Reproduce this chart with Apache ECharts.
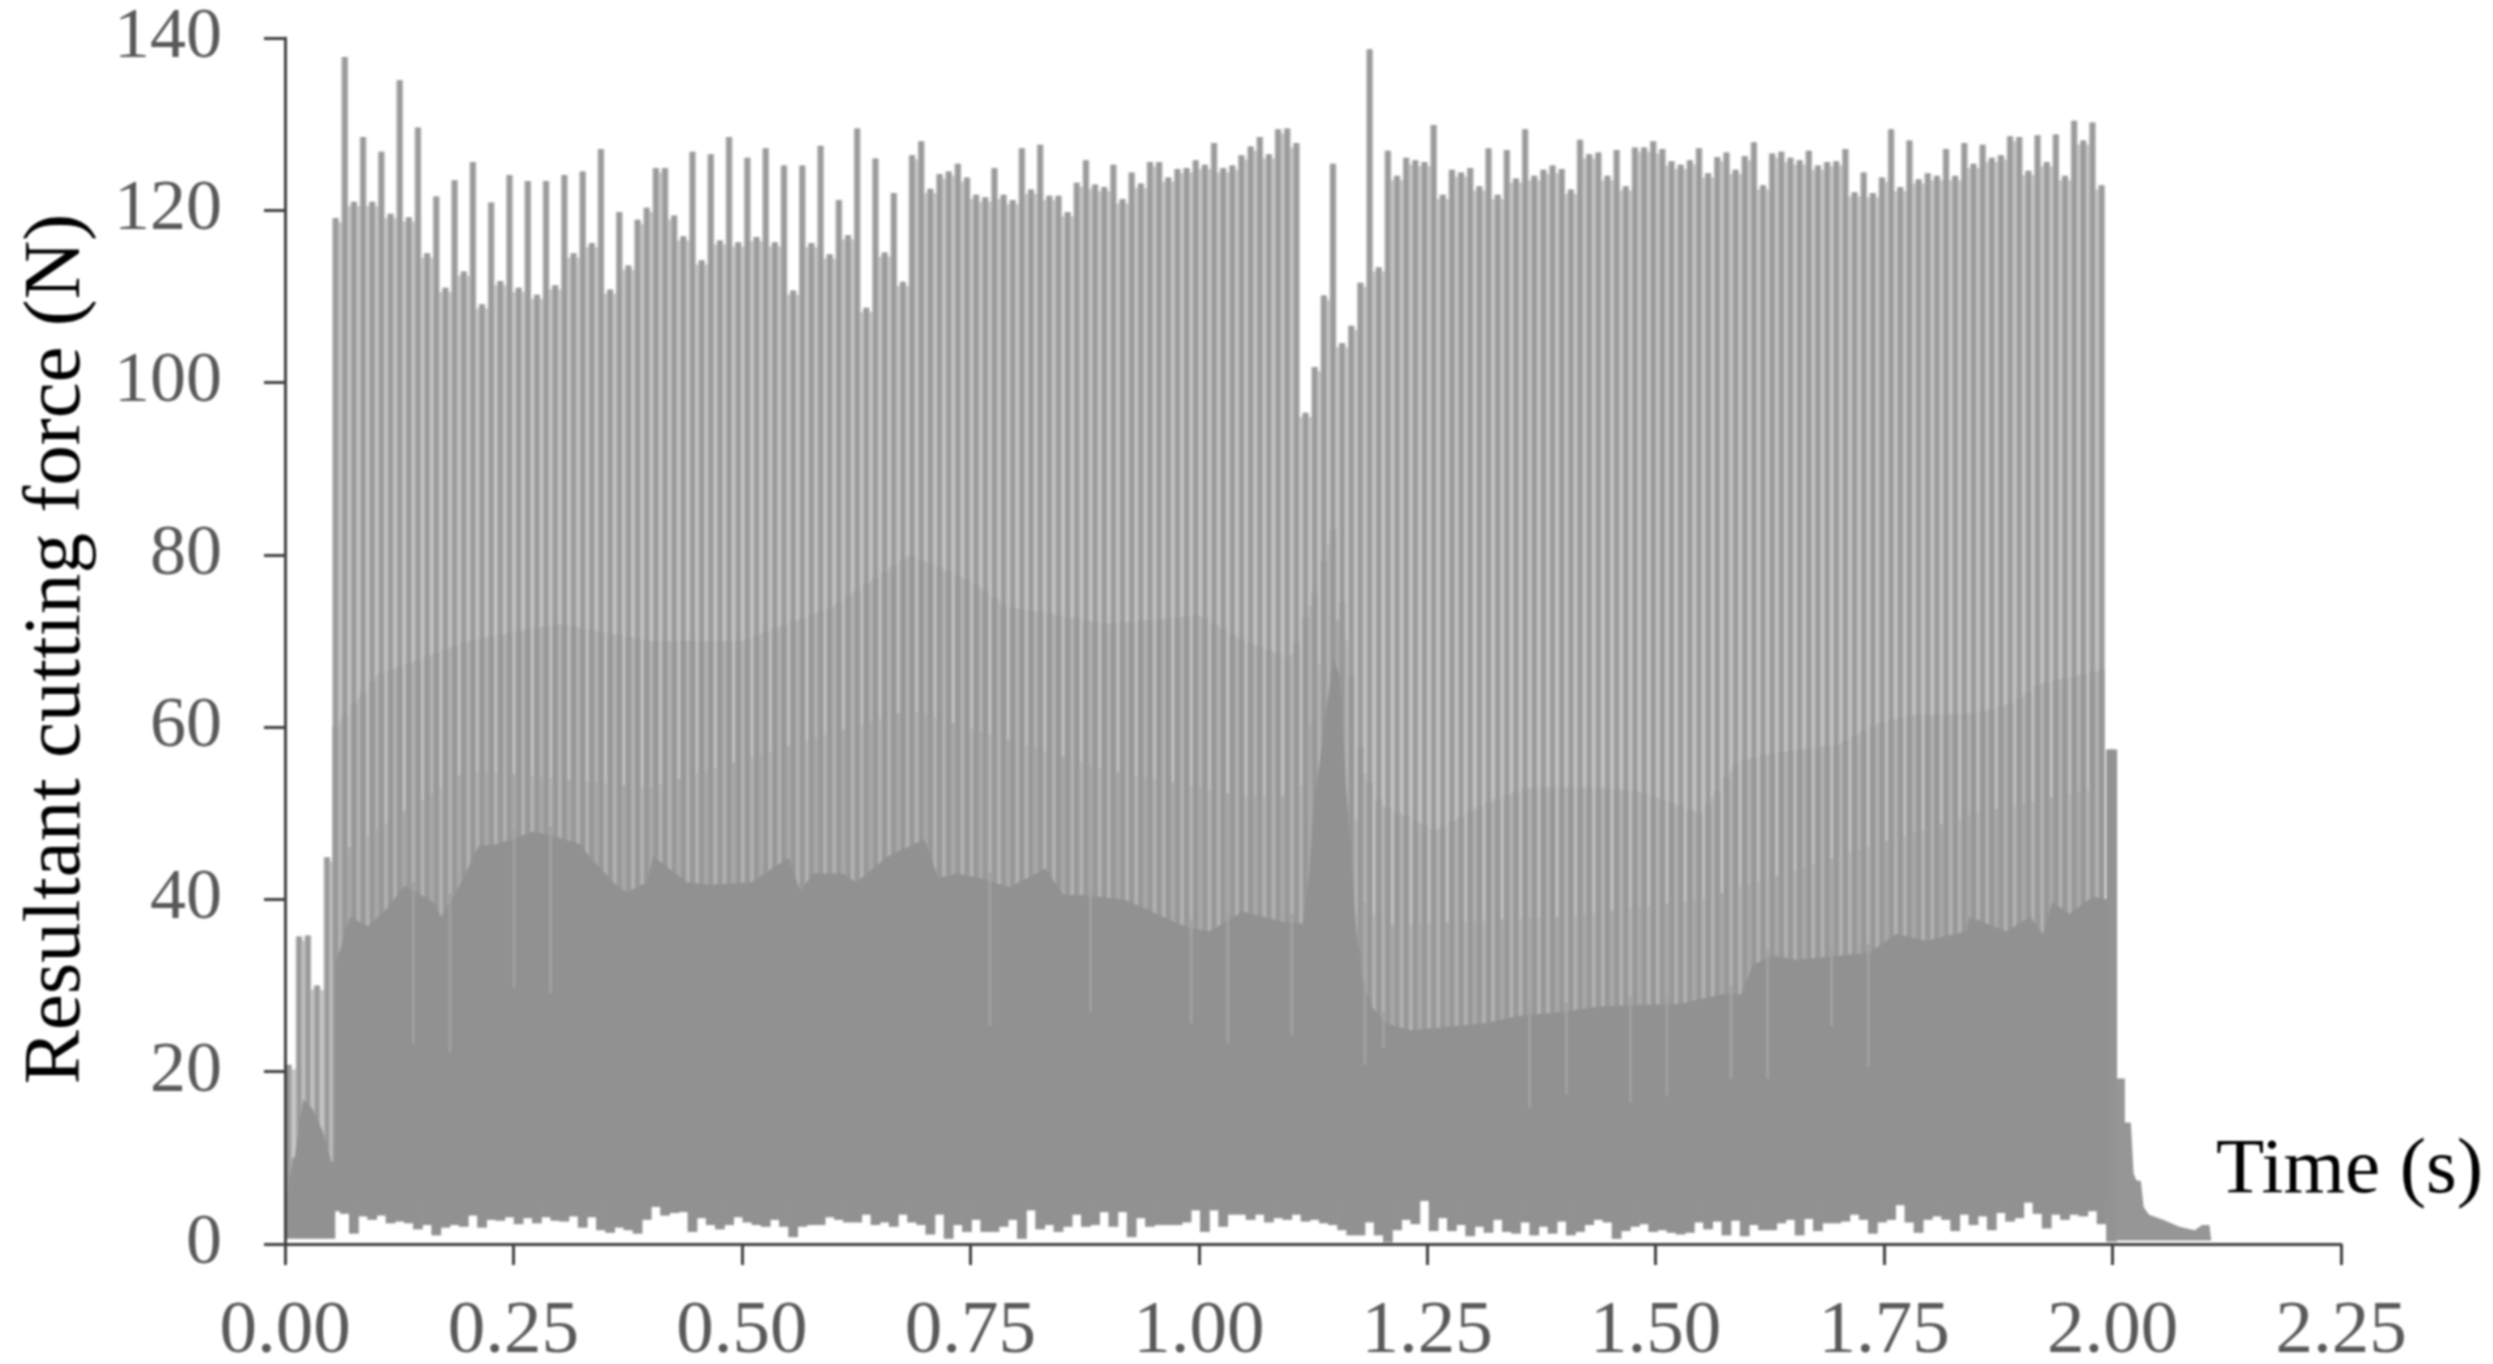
<!DOCTYPE html>
<html><head><meta charset="utf-8">
<style>html,body{margin:0;padding:0;background:#fff}#c{width:2493px;height:1364px;filter:blur(0.8px)}</style>
<script src="https://cdn.jsdelivr.net/npm/echarts@6/dist/echarts.min.js"></script>
</head><body><div id="c"></div>
<script>
const xTicks=[0,0.25,0.5,0.75,1,1.25,1.5,1.75,2,2.25];
const earlyTimes=[0.004,0.0154,0.025,0.035,0.046];
const earlyPeaks=[20.8,35.7,35.8,30,44.9];
const earlyFloor=[[0.002,5],[0.0085,10],[0.0105,10],[0.02,16.8],[0.03,15.7],[0.041,13.2],[0.051,9.5],[0.055,9.5]];
const tStart=0.0554,tEnd=1.988;
const peaks=[119.1,137.8,121,128.5,121,126.8,119.6,135.1,119.2,129.6,115,121.6,111,123.5,112.9,125.6,109.1,120.9,111.8,124.1,111,123.4,110.2,123.4,111.3,124.1,115,124.5,116.2,127.1,110.8,119.8,113.6,118.9,120.3,124.9,124.9,119.4,117,126.8,114.2,126.5,116.5,128.5,116.3,126.1,116.9,127.2,116.3,125.2,110.7,125.2,116.2,127.5,
114.9,121.2,117.1,129.5,108.7,126,115.1,122,111.7,126.4,128,122.5,124.2,124.5,125.4,123.8,121.8,121.5,124.9,121.8,121.2,127.2,122.4,127.6,121.7,121.7,119.8,123.2,125.8,123,122.7,125.3,121.3,124.4,123.1,125.6,125.6,123.8,124.8,124.9,125.8,125.3,127.8,
124.9,125.2,126.4,127.4,128.5,126.5,129.4,129.5,127.8,96.5,101.8,110.1,125.4,104.6,106.6,111.6,138.7,113.4,126.9,124,126.1,125.8,125.6,129.9,121.8,124.7,124.4,124.9,122.8,127.2,121.8,127,123.7,129.4,124,124.7,125.2,124.8,122.4,128.2,126.5,126.7,124,127,122.8,127.3,127.3,128,127.1,125.7,125.3,125.8,127.2,124.3,126.2,126.7,124.7,126.3,127.9,122.9,126.6,126.8,126.1,125.8,126.9,125.2,125.6,125.7,127.1,122.1,124.4,122,123.8,129.4,
122.7,128.1,123.6,124.3,124,127.1,124,127.8,125.4,127.6,126.1,126.4,128.6,128.5,124.6,128.7,125.6,128.8,124,130.4,128.1,130.2,122.9];
const trough=[3.8,3.5,1.2,3.2,2.8,3.3,2.4,2.6,2.4,1.7,2.2,1,1.9,2.2,2,3.3,1.9,2.8,2.7,3.1,2.3,3,2.4,3.1,2.7,2.6,3.2,1.9,3.1,1.6,1.3,1.9,1.6,1.2,2.8,4.3,3.3,
3.6,3.7,1.4,3,2.2,1.7,2.2,3.1,2.5,2.2,2,2.8,2,0.8,2,2.2,2.2,3.1,2.8,2.5,2.5,3.4,2.2,2.5,2,3.4,2.5,2.2,1.1,3.4,0.6,2.2,1.4,2.8,1.4,1.4,2,2.8,0.6,3.9,1.7,2.2,1.4,2,3.4,2,2.2,3.7,2,3.7,0.8,3,2,2.2,2.2,2.2,2.5,3.9,1.4,3.9,2,3.4,
3.4,2.8,3.4,2.5,3,2.8,3.4,2.6,2.8,2.4,2.2,1.6,1,1,2.5,1,0.2,1.6,2.8,2.3,5,1.5,3,1.5,2.2,0.9,2,1.3,2.8,1.4,1.2,2.5,1,2,1.2,2.6,1,1.4,2.2,2.8,2.5,0.6,1.5,2,2.3,1.4,1.6,1.3,1.1,1.3,2.5,
1.7,2.6,1,2.7,0.9,2.2,1.6,1.6,2.4,2.8,1,2.9,1.5,2.4,2.4,2.6,3.4,2.8,1.2,2.5,2.8,4.5,2.5,1.3,2.8,3.2,2.8,1.5,3.4,2.2,3.2,1.6,3.6,2.6,3,4.8,3.5,1.8,3.4,2.8,3.4,3.2,3.8,2.3,3.6];
const floorT=[0.055,0.071,0.091,0.111,0.131,0.161,0.171,0.191,0.212,0.232,0.272,0.293,0.323,0.334,0.363,0.374,0.396,0.403,0.421,0.44,0.465,0.51,0.551,0.564,0.578,0.61,0.625,0.66,0.7,0.715,0.735,0.76,0.774,0.793,0.832,0.852,0.87,0.918,0.938,0.973,0.993,1.012,1.048,1.092,1.114,1.121,1.125,1.147,1.154,1.162,1.173,1.18,1.191,1.205,1.231,1.282,1.311,1.352,1.403,1.44,1.526,1.573,1.594,1.606,1.628,1.654,1.734,1.763,1.796,1.84,1.843,1.884,1.91,1.924,1.934,1.953,1.978,1.995,2.004];
const floorV=[32.3,38,36.9,38.9,41.6,39.8,38,41.6,46.2,46.4,47.9,47.4,46.4,44.9,41.6,40.8,42,45,43.5,42,41.7,42,44.8,41,43,43,42,45,47,42.5,43,42.5,42,41.4,43.6,40.5,40.5,40,39.1,37.4,36.6,36.3,38.6,37.4,37.2,43,50,68,66,52,35.8,30,27.3,25.6,24.8,25.3,25.6,26.5,27,27.6,27.9,29,29,32.4,33.5,33,33.8,36,35.2,36.3,38,36.3,38,36,39.7,38.3,40.3,40,40];
const midT=[0.055,0.1,0.2,0.3,0.4,0.5,0.6,0.684,0.75,0.79,0.9,1,1.05,1.1,1.125,1.147,1.162,1.18,1.2,1.26,1.31,1.36,1.43,1.48,1.55,1.59,1.63,1.7,1.745,1.78,1.85,1.89,1.92,1.99];
const midV=[60,66,70,72,70,70,74,80,77,74,72,73,70,68,75,83,70,55,51,48,51,53,53,52.6,50,56,57,58,60.5,61.4,61.6,62.8,65,66.7];
const lowerMidT=[0.055,0.2,0.4,0.684,0.9,1.05,1.11,1.147,1.18,1.2,1.4,1.55,1.7,1.85,1.99];
const lowerMidV=[45,55,53,62,55,52,52,78,40,37,38,40,45,50,53];
const stripeT=[0.143,0.182,0.252,0.293,0.773,0.883,0.993,1.032,1.103,1.18,1.2,1.364,1.404,1.474,1.514,1.583,1.623,1.692,1.733];
const stripeBottom=[23.2,22.3,29.8,29.1,25.3,27,25.6,23.3,24.2,20.8,22.8,15.8,17.4,16.4,17.2,19.2,19.2,25.3,20.6];
const closeT=1.999,closeV=57.4;
const tailT=[2.004,2.0135,2.0135,2.02,2.023,2.026,2.031,2.034,2.04,2.056,2.073,2.09,2.098,2.106,2.108];
const tailV=[19.2,19.2,14.1,14.1,8.2,7.4,7.3,4.3,3.4,2.8,2,1.6,2.2,2.2,0.4];

const n=peaks.length, step=(tEnd-tStart)/(n-1);
const times=peaks.map((_,i)=>tStart+i*step);
const allT=[...earlyTimes,...times,closeT], allP=[...earlyPeaks,...peaks,closeV];
const LOW=5;
const levelAt=(T,V,t)=>{if(t<=T[0])return V[0];for(let j=1;j<T.length;j++){if(t<=T[j]){const f=(t-T[j-1])/(T[j]-T[j-1]);return V[j-1]+f*(V[j]-V[j-1]);}}return V[V.length-1];};

function spikes(name,w,color,z,items){return {type:'custom',name,z,clip:false,silent:true,animation:false,progressive:0,
  encode:{x:0,y:[1,2]},data:items,
  renderItem:(p,api)=>{const a=api.coord([api.value(0),api.value(2)]),b=api.coord([api.value(0),api.value(1)]);
    return {type:'rect',shape:{x:a[0]-w/2,y:a[1],width:w,height:b[1]-a[1]},style:{fill:color}};}};}
function band(name,pts,low,color,z){const rows=[[pts[0][0],low],...pts,[pts[pts.length-1][0],low]];
  return {type:'custom',name,z,clip:false,silent:true,animation:false,progressive:0,encode:{x:0,y:1},data:rows,
  renderItem:(p,api)=>{if(p.dataIndex!==0)return null;
    return {type:'polygon',shape:{points:rows.map(r=>api.coord(r))},style:{fill:color}};}};}
const zip=(a,b)=>a.map((v,i)=>[v,b[i]]);
const gapItems=[],gapMid=[],gapLow=[];
for(let i=0;i<allT.length-2;i++){
  const t=(allT[i]+allT[i+1])/2;
  gapItems.push([t,LOW,Math.min(allP[i],allP[i+1])-0.5]);
  if(t>tStart){
    gapMid.push([t,LOW,i%2?levelAt(midT,midV,t):levelAt(lowerMidT,lowerMidV,t)]);
    if(i%3===0)gapLow.push([t,LOW,levelAt(lowerMidT,lowerMidV,t)]);
  }
}
const pulseItems=allT.map((t,i)=>[t,LOW,allP[i]]);
const pulseMid=times.map(t=>[t,LOW,levelAt(midT,midV,t)]);
const troughItems=times.map((t,i)=>[t,trough[Math.min(i,trough.length-1)],LOW+1]);
troughItems.push([closeT,0.3,LOW+1]);
const stripeItems=stripeT.map((t,i)=>{const k=Math.round((t-tStart)/step-0.5);const m=tStart+(k+0.5)*step;return [m,stripeBottom[i],levelAt(floorT,floorV,m)+1];});

const series=[
 spikes('gaps',10,'#c8c8c8',1,gapItems),
 spikes('gapMid',10,'#b8b8b8',1.2,gapMid),
 spikes('gapLow',10,'#aaaaaa',1.4,gapLow),
 spikes('pulse',6.6,'#aaaaaa',2,pulseItems),
 spikes('pulseMid',6.6,'#a0a0a0',2.5,pulseMid),
 spikes('pulseCore',2.4,'#949494',3,pulseItems),
 band('floor',zip(floorT,floorV),LOW,'#919191',5),
 band('start',[[0.002,6],[0.055,6]],0.6,'#919191',5),
 band('startFloor',earlyFloor,LOW,'#919191',5),
 spikes('stripes',2.6,'#a3a3a3',6,stripeItems),
 spikes('trough',9.8,'#919191',7,troughItems),
 spikes('close',11,'#939393',7,[[closeT,0.3,closeV]]),
 band('tail',zip(tailT,tailV),0.4,'#969696',7)
];
const axisStyle={lineStyle:{color:'#404040',width:3}};
const chart=echarts.init(document.getElementById('c'),null,{renderer:'canvas',width:2493,height:1364});
chart.setOption({
 animation:false,backgroundColor:'#fff',
 grid:{left:285,top:38,width:2056,height:1206,containLabel:false,outerBoundsMode:'none'},
 xAxis:{type:'value',min:0,max:2.25,interval:0.25,splitLine:{show:false},
   axisLine:{show:true,onZero:false,...axisStyle},axisTick:{show:true,length:21,inside:false,...axisStyle},
   axisLabel:{show:true,margin:51,fontFamily:'Liberation Serif',fontSize:75,color:'#595959',formatter:v=>v.toFixed(2)},z:20},
 yAxis:{type:'value',min:0,max:140,interval:20,splitLine:{show:false},
   axisLine:{show:true,...axisStyle},axisTick:{show:true,length:21,inside:false,...axisStyle},
   axisLabel:{show:true,margin:63,fontFamily:'Liberation Serif',fontSize:72,color:'#595959'},z:20},
 graphic:[
  {type:'text',x:2216,y:1171,z:30,style:{text:'Time (s)',fontFamily:'Liberation Serif',fontSize:79,fill:'#000',textVerticalAlign:'middle',textAlign:'left'}},
  {type:'text',x:58,y:649,rotation:Math.PI/2,z:30,style:{text:'Resultant cutting force (N)',fontFamily:'Liberation Serif',fontSize:81,fill:'#000',textAlign:'center',textVerticalAlign:'middle'}}
 ],
 series
});
</script></body></html>
